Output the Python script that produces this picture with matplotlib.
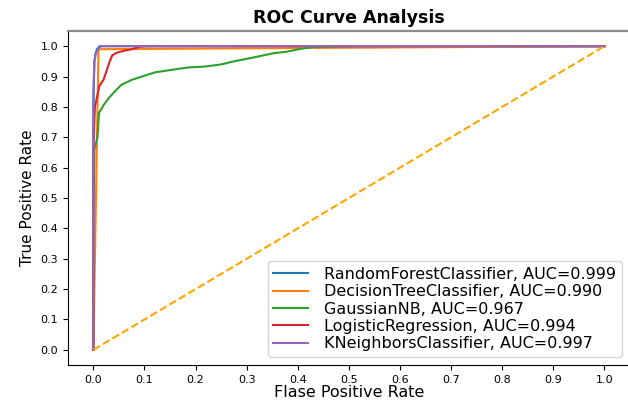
import numpy as np
import matplotlib
matplotlib.use("Agg")
import matplotlib.pyplot as plt

# ROC points
rf_fpr = [0.0, 0.0, 0.002, 0.004, 0.007, 0.012, 1.0]
rf_tpr = [0.0, 0.80, 0.95, 0.975, 0.99, 1.0, 1.0]

dt_fpr = [0.0, 0.010, 1.0]
dt_tpr = [0.0, 0.990, 1.0]

nb_fpr = [0.0, 0.0, 0.002, 0.008, 0.011, 0.02, 0.03, 0.042, 0.055, 0.075, 0.095,
          0.121, 0.153, 0.186, 0.219, 0.25, 0.275, 0.314, 0.353, 0.379, 0.405,
          0.431, 0.477, 0.5, 1.0]
nb_tpr = [0.0, 0.45, 0.66, 0.70, 0.78, 0.806, 0.829, 0.851, 0.873, 0.889, 0.90,
          0.914, 0.922, 0.93, 0.933, 0.94, 0.95, 0.963, 0.977, 0.982, 0.991,
          0.997, 0.999, 1.0, 1.0]

lr_fpr = [0.0, 0.0, 0.0, 0.003, 0.008, 0.012, 0.02, 0.026, 0.032, 0.037, 0.045,
          0.06, 0.075, 0.09, 0.105, 1.0]
lr_tpr = [0.0, 0.45, 0.66, 0.80, 0.84, 0.87, 0.89, 0.92, 0.95, 0.97, 0.978,
          0.985, 0.99, 0.998, 1.0, 1.0]

kn_fpr = [0.0, 0.0, 0.002, 0.005, 0.009, 0.015, 1.0]
kn_tpr = [0.0, 0.85, 0.95, 0.975, 0.99, 1.0, 1.0]

names = ["RandomForestClassifier", "DecisionTreeClassifier", "GaussianNB",
         "LogisticRegression", "KNeighborsClassifier"]
aucs = [0.999, 0.990, 0.967, 0.994, 0.997]
curves = [(rf_fpr, rf_tpr), (dt_fpr, dt_tpr), (nb_fpr, nb_tpr),
          (lr_fpr, lr_tpr), (kn_fpr, kn_tpr)]

ticks = np.arange(0.0, 1.1, step=0.1)

fig = plt.figure(figsize=(6.28, 4.0), dpi=100)
ax = fig.add_axes([0.108, 0.0875, 0.895, 0.835])

for name, auc, (fpr, tpr) in zip(names, aucs, curves):
    ax.plot(fpr, tpr, label="{}, AUC={:.3f}".format(name, auc))

ax.plot([0, 1], [0, 1], color='orange', linestyle='--')

ax.set_xticks(ticks)
ax.set_yticks(ticks)
ax.tick_params(labelsize=8)
ax.spines['top'].set_color('#8c8c8c')
ax.spines['top'].set_linewidth(1.6)

ax.set_xlabel("Flase Positive Rate", fontsize=11.5, labelpad=0)
ax.set_ylabel("True Positive Rate", fontsize=11)
ax.set_title('ROC Curve Analysis', fontweight='bold', fontsize=12.5)
ax.legend(prop={'size': 11.5}, loc='lower right', labelspacing=0.15,
          borderpad=0.35, handlelength=2.2, handletextpad=1.0)

fig.savefig("out.png", dpi=100)
